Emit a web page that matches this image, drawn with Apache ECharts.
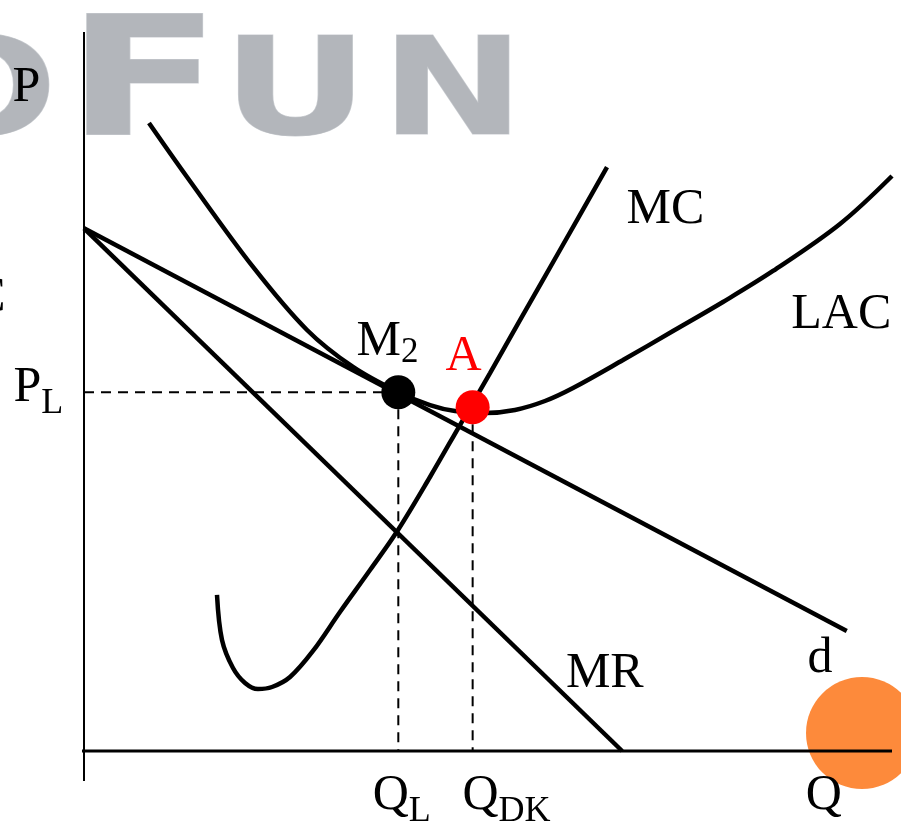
<!DOCTYPE html>
<html>
<head>
<meta charset="utf-8">
<script src="https://cdn.jsdelivr.net/npm/echarts@6/dist/echarts.min.js"></script>
<style>
  html, body { margin: 0; padding: 0; background: #ffffff; }
  #chart { width: 901px; height: 827px; }
</style>
</head>
<body>
<div id="chart"></div>
<script>
// Monopolistic competition, long run: demand d, marginal revenue MR,
// long-run average cost LAC and marginal cost MC.  Units: Q and P on 0..100.

// Straight lines: [Q, P] end points
const demandLine = [[0, 72.7], [94.4, 16.7]];
const mrLine = [[0, 72.7], [66.6, 0]];

// Long-run average cost curve
const lacQ = [8.04, 12.75, 20.92, 27.60, 33.29, 38.86, 42.82, 45.92, 49.63, 53.34, 57.05, 60.52, 66.71, 72.90, 79.08, 85.27, 93.56, 100];
const lacP = [87.34, 79.83, 67.32, 58.55, 53.41, 49.93, 48.12, 47.29, 47.01, 47.43, 48.68, 50.49, 54.38, 58.41, 62.45, 66.76, 73.30, 79.97];

// Marginal cost curve
const mcQ = [16.46, 17.08, 18.44, 19.93, 21.53, 23.27, 25.50, 28.34, 31.68, 35.40, 38.86, 42.82, 46.53, 50.25, 53.96, 58.91, 64.73];
const mcP = [21.70, 15.44, 11.54, 9.46, 8.62, 8.90, 10.29, 13.91, 19.33, 25.17, 30.74, 38.11, 45.34, 52.57, 59.94, 69.68, 81.22];

// Key points
const pointM2 = [38.9, 49.9];   // tangency of d and LAC (Q_L, P_L)
const pointA = [48.1, 47.8];    // minimum of LAC (Q_DK)

// Axis extents (axes run a little past the origin)
const qAxisLine = [[-3.84, 0], [100, 0]];
const pAxisLine = [[0, -4.17], [0, 100]];
const leftStub = [[-11, 0], [-7.3, 0]];

// Text labels: [Q, P, rich-text]
const labels = [
  [-8.79, 92.2, '{a|P}'],
  [-8.66, 50.5, '{a|P}{b|L}'],
  [33.8, 56.9, '{a|M}{c|2}'],
  [44.8, 54.8, '{r|A}'],
  [67.2, 75.2, '{a|MC}'],
  [87.6, 60.6, '{a|LAC}'],
  [89.6, 12.7, '{a|d}'],
  [59.7, 10.6, '{a|MR}'],
  [35.8, -6.26, '{a|Q}{b|L}'],
  [46.9, -6.26, '{a|Q}{b|DK}'],
  [89.4, -6.26, '{a|Q}']
];
const edgeLabel = [-9.65, 63.0, '{a|C}'];

const pairs = (xs, ys) => xs.map((x, i) => [x, ys[i]]);

const SERIF = '"Liberation Serif", "DejaVu Serif", serif';
const richStyles = {
  a: { fontFamily: SERIF, fontSize: 50, lineHeight: 80, color: '#000' },
  b: { fontFamily: SERIF, fontSize: 36, lineHeight: 36, padding: [32, 0, 0, 0], color: '#000' },
  c: { fontFamily: SERIF, fontSize: 35, lineHeight: 35, padding: [22, 0, 0, 0], color: '#000' },
  r: { fontFamily: SERIF, fontSize: 50, lineHeight: 80, color: '#ff0000' }
};

const solid = (name, data, extra) => Object.assign({
  name: name,
  type: 'line',
  data: data,
  clip: false,
  symbol: 'none',
  silent: true,
  z: 3,
  lineStyle: { color: '#000', width: 4.5 }
}, extra || {});

const dashStyle = { color: '#000', width: 2, type: [10, 7] };

const chart = echarts.init(document.getElementById('chart'), null, { renderer: 'canvas' });

// Grey bevelled logo lettering behind the plot
const logoLetter = (ch, x, y, size, sx) => ({
  type: 'text',
  x: x, y: y,
  scaleX: sx,
  z: 0,
  silent: true,
  style: {
    text: ch,
    font: 'bold ' + size + 'px "DejaVu Sans"',
    fill: '#b3b6bb',
    stroke: '#cdd0d4',
    lineWidth: 1,
    align: 'left',
    verticalAlign: 'middle',
    shadowColor: 'rgba(60,60,70,0.35)',
    shadowBlur: 3,
    shadowOffsetX: 1,
    shadowOffsetY: 2
  }
});

chart.setOption({
  animation: false,
  backgroundColor: '#ffffff',
  grid: { left: 84, right: 9, top: 32, bottom: 76, containLabel: false },
  xAxis: { type: 'value', min: 0, max: 100, show: false },
  yAxis: { type: 'value', min: 0, max: 100, show: false },
  graphic: {
    elements: [
      logoLetter('O', -96, 99, 135, 1.34),
      logoLetter('F', 66, 91, 165, 1.38),
      logoLetter('U', 222, 99, 135, 1.34),
      logoLetter('N', 381, 99, 135, 1.27),
      {
        type: 'circle',
        z: 0,
        silent: true,
        shape: { cx: 862, cy: 733, r: 56 },
        style: { fill: '#fd8a3b' }
      }
    ]
  },
  series: [
    solid('Q axis', qAxisLine, { lineStyle: { color: '#000', width: 3 } }),
    solid('P axis', pAxisLine, { lineStyle: { color: '#000', width: 2 } }),
    solid('stub', leftStub, { lineStyle: { color: '#000', width: 3 } }),
    solid('guide PL', [[0, pointM2[1]], pointM2], { lineStyle: dashStyle }),
    solid('guide QL', [pointM2, [pointM2[0], 0]], { lineStyle: dashStyle }),
    solid('guide QDK', [pointA, [pointA[0], 0]], { lineStyle: dashStyle }),
    solid('d', demandLine),
    solid('MR', mrLine),
    solid('LAC', pairs(lacQ, lacP), { smooth: 0.35 }),
    solid('MC', pairs(mcQ, mcP), { smooth: 0.35 }),
    {
      name: 'points',
      type: 'scatter',
      clip: false,
      silent: true,
      z: 5,
      symbolSize: 34,
      data: [
        { value: pointM2, itemStyle: { color: '#000', opacity: 1 } },
        { value: pointA, itemStyle: { color: '#ff0000', opacity: 1 } }
      ]
    },
    {
      name: 'labels',
      type: 'scatter',
      clip: false,
      silent: true,
      z: 6,
      symbolSize: 1,
      itemStyle: { color: 'rgba(0,0,0,0)', opacity: 1 },
      label: {
        show: true,
        opacity: 1,
        position: [0, 0],
        align: 'left',
        verticalAlign: 'middle',
        formatter: (p) => p.data.text,
        rich: richStyles
      },
      data: labels.map(l => ({ value: [l[0], l[1]], text: l[2] })).concat([
        { value: [edgeLabel[0], edgeLabel[1]], text: edgeLabel[2], label: { align: 'right' } }
      ])
    }
  ]
});
</script>
</body>
</html>
